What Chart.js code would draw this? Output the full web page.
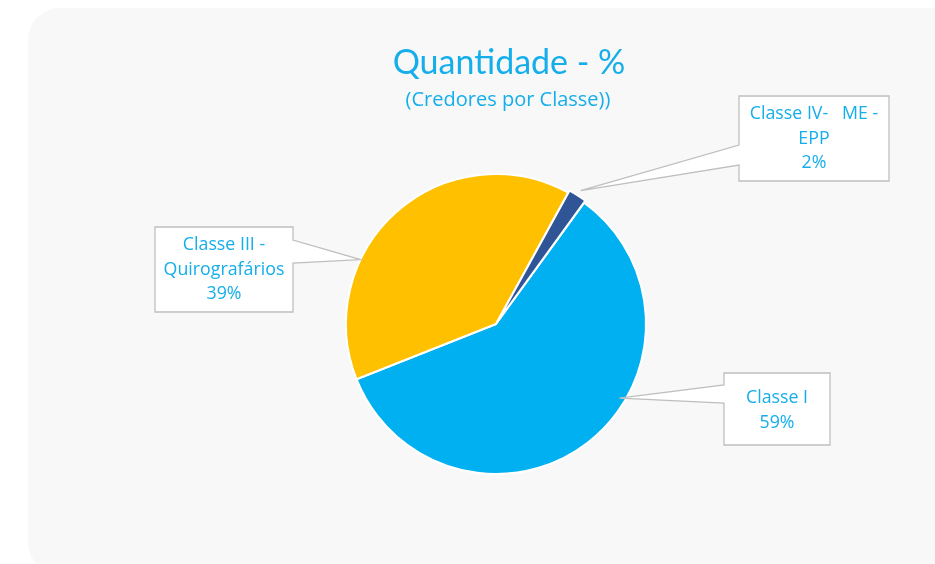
<!DOCTYPE html>
<html>
<head>
<meta charset="utf-8">
<script src="https://cdn.jsdelivr.net/npm/chart.js@4.4.1/dist/chart.umd.min.js"></script>
<style>
  html, body { margin: 0; padding: 0; background: #ffffff; overflow: hidden; }
  .card {
    position: absolute; left: 28px; top: 8px; width: 960px; height: 566px;
    background: #f8f8f8; border-radius: 32px;
  }
  .wrap { position: absolute; left: 0; top: 0; width: 935px; height: 564px; }
</style>
</head>
<body>
<div class="card"></div>
<div class="wrap"><canvas id="pie"></canvas></div>
<script>
// data
const categories = ['Classe I', 'Classe III - Quirografários', 'Classe IV-   ME - EPP'];
const values = [59, 39, 2];
const colors = ['#00B0F0', '#FFC000', '#2F5597'];
const offsets = [0, 0, 5];

// callout text lines (as shown in the picture)
const calloutLines = [
    ['Classe I', '59%'],
    ['Classe III -', 'Quirografários', '39%'],
    ['Classe IV-   ME -', 'EPP', '2%']
];

// callout boxes: box position, where the pointer leaves the box, where it hits the slice
const callouts = [
    { x: 724, y: 373, w: 106, h: 72, side: 'left', p1: 385, p2: 403, frac: 0.40, r: 0.96 },
    { x: 155, y: 227, w: 138, h: 85, side: 'right', p1: 240, p2: 263, frac: 0.335, r: 1.0 },
    { x: 739, y: 96, w: 150, h: 85, side: 'left', p1: 145, p2: 165, frac: 0.5, r: 1.02 }
];

const textColor = '#14AEEB';
const titleFont = 'Lato, "Open Sans", sans-serif';
const labelFont = '"Open Sans", Lato, sans-serif';

const calloutPlugin = {
    id: 'callouts',
    afterDatasetsDraw(chart) {
        const ctx = chart.ctx;
        const arcs = chart.getDatasetMeta(0).data;
        ctx.save();

        // titles
        ctx.fillStyle = textColor;
        ctx.textAlign = 'center';
        ctx.textBaseline = 'alphabetic';
        ctx.font = '34px ' + titleFont;
        ctx.fillText('Quantidade - %', 509, 74);
        ctx.font = '20px ' + labelFont;
        ctx.fillText('(Credores por Classe))', 508, 106);

        callouts.forEach((c, i) => {
            const arc = arcs[i];
            const a = arc.startAngle + c.frac * (arc.endAngle - arc.startAngle);
            const mid = (arc.startAngle + arc.endAngle) / 2;
            const off = offsets[i];
            const ax = arc.x + Math.cos(mid) * off + Math.cos(a) * arc.outerRadius * c.r;
            const ay = arc.y + Math.sin(mid) * off + Math.sin(a) * arc.outerRadius * c.r;

            ctx.beginPath();
            if (c.side === 'left') {
                ctx.moveTo(c.x, c.y);
                ctx.lineTo(c.x + c.w, c.y);
                ctx.lineTo(c.x + c.w, c.y + c.h);
                ctx.lineTo(c.x, c.y + c.h);
                ctx.lineTo(c.x, c.p2);
                ctx.lineTo(ax, ay);
                ctx.lineTo(c.x, c.p1);
            } else {
                ctx.moveTo(c.x, c.y);
                ctx.lineTo(c.x + c.w, c.y);
                ctx.lineTo(c.x + c.w, c.p1);
                ctx.lineTo(ax, ay);
                ctx.lineTo(c.x + c.w, c.p2);
                ctx.lineTo(c.x + c.w, c.y + c.h);
                ctx.lineTo(c.x, c.y + c.h);
            }
            ctx.closePath();
            ctx.fillStyle = '#ffffff';
            ctx.fill();
            ctx.strokeStyle = '#BFBFBF';
            ctx.lineWidth = 1.3;
            ctx.stroke();

            const lines = calloutLines[i];
            const lh = 24.5;
            const cy = c.y + c.h / 2 + (i === 0 ? 1.5 : 0);
            ctx.fillStyle = textColor;
            ctx.font = '17.8px ' + labelFont;
            ctx.textAlign = 'center';
            ctx.textBaseline = 'middle';
            lines.forEach((t, k) => {
                ctx.fillText(t, c.x + c.w / 2, cy + (k - (lines.length - 1) / 2) * lh);
            });
        });
        ctx.restore();
    }
};

new Chart(document.getElementById('pie'), {
    type: 'pie',
    data: {
        labels: categories,
        datasets: [{
            data: values,
            backgroundColor: colors,
            borderColor: '#ffffff',
            borderWidth: 2,
            offset: offsets
        }]
    },
    options: {
        responsive: true,
        maintainAspectRatio: false,
        animation: false,
        rotation: 36,
        layout: { padding: { left: 342.5, right: 285.5, top: 170.5, bottom: 86.5 } },
        plugins: {
            legend: { display: false },
            tooltip: { enabled: false },
            title: { display: false }
        }
    },
    plugins: [calloutPlugin]
});
</script>
</body>
</html>
